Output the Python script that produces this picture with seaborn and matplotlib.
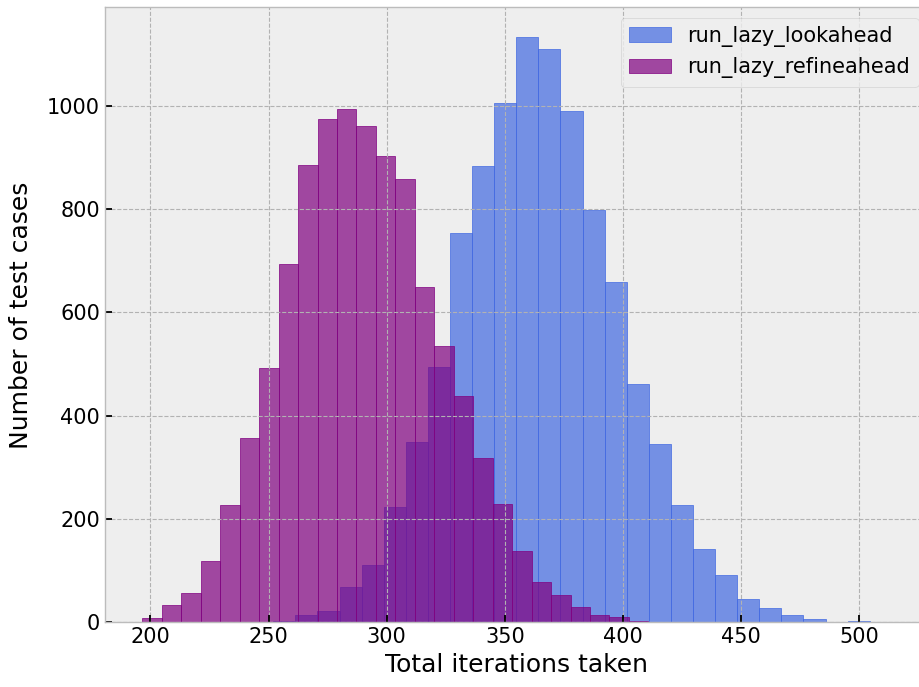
import numpy as np
import pandas as pd
import matplotlib
matplotlib.use("Agg")
import matplotlib.pyplot as plt
import seaborn as sns

# Histogram counts per bin for the two solver variants
lookahead_range = (252.0, 504.4)
lookahead_counts = [3, 14, 22, 68, 111, 223, 349, 494, 753, 883, 1005, 1133, 1109,
                    989, 798, 658, 461, 345, 227, 142, 92, 45, 28, 14, 6, 1, 3]

refineahead_range = (196.6, 419.0)
refineahead_counts = [9, 34, 57, 118, 227, 357, 492, 694, 884, 973, 993, 961, 903,
                      858, 648, 535, 439, 318, 229, 139, 79, 53, 30, 14, 10, 3, 1]

series_names = ["run_lazy_lookahead", "run_lazy_refineahead"]
series_colors = ["royalblue", "purple"]

x_ticks = [200, 250, 300, 350, 400, 450, 500]
y_ticks = [0, 200, 400, 600, 800, 1000]

plt.style.use("bmh")
plt.rcParams["font.family"] = ["DejaVu Sans"]

fig = plt.figure(figsize=(9.2, 6.87), dpi=100)
ax = fig.add_axes([0.1141, 0.0939, 0.8957, 0.8955])


def draw_hist(rng, counts, color, name):
    edges = np.linspace(rng[0], rng[1], len(counts) + 1)
    df = pd.DataFrame({"iterations": (edges[:-1] + edges[1:]) / 2,
                       "cases": counts})
    sns.histplot(data=df, x="iterations", weights="cases", bins=edges.tolist(),
                 color=color, alpha=0.7, edgecolor=color, linewidth=0.5,
                 label=name, ax=ax)


draw_hist(lookahead_range, lookahead_counts, series_colors[0], series_names[0])
draw_hist(refineahead_range, refineahead_counts, series_colors[1], series_names[1])

ax.set_xlim(180.8, 529.5)
ax.set_ylim(0, 1190)
ax.set_xticks(x_ticks)
ax.set_yticks(y_ticks)
ax.tick_params(axis="both", labelsize=15, direction="in", length=5, width=1.3,
               color="black")
ax.grid(True, linestyle="--", color="#b2b2b2", linewidth=0.8)
for sp in ax.spines.values():
    sp.set_color("#bcbcbc")
    sp.set_linewidth(1.0)

ax.set_xlabel("Total iterations taken", fontsize=18)
ax.set_ylabel("Number of test cases", fontsize=18, labelpad=10)

ax.legend(loc="upper right", fontsize=15, fancybox=True)

fig.savefig("out.png", dpi=100)
